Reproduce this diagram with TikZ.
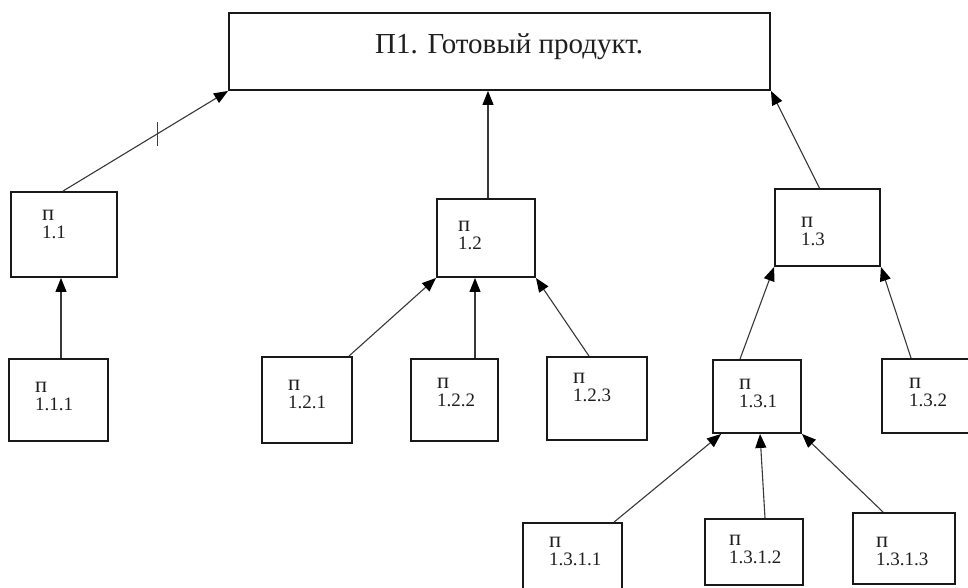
\documentclass[tikz,border=0pt]{standalone}
\usepackage{fontspec}
\setmainfont{Liberation Serif}
\usetikzlibrary{arrows.meta,calc}
\tikzset{
  box/.style={draw=black!90, line width=1.9pt, rectangle, inner sep=0pt, fill=none},
  conn/.style={draw=black!78, line width=1.1pt, -{Triangle[length=14pt,width=11pt,color=black]}},
  lab/.style={inner sep=0pt, font=\fontsize{19}{19}\selectfont, text=black!88},
  labp/.style={inner sep=0pt, font=\fontsize{22.5}{22}\selectfont, text=black!88},
  ttl/.style={inner sep=0pt, font=\fontsize{29}{34}\selectfont, text=black!88},
}
\newcommand\mylbl[4]{%
  \node[labp,anchor=base west] (#1a) at (#2,#3) {п};
  \node[lab,anchor=base west] (#1b) at (#2,#3+18.5) {#4};}
\begin{document}
\begin{tikzpicture}[x=1pt,y=-1pt]
\useasboundingbox (0,0) rectangle (968,587);
\fill[white] (0,0) rectangle (968,587);
% boxes
\node[box, minimum width=541pt, minimum height=77pt] (top) at (499.5,51.5) {};
\node[box, minimum width=106pt, minimum height=85pt] (b11) at (64,234.5) {};
\node[box, minimum width=98pt, minimum height=78pt] (b12) at (486,238) {};
\node[box, minimum width=105pt, minimum height=77pt] (b13) at (827.5,227.5) {};
\node[box, minimum width=99pt, minimum height=82pt] (b111) at (58.5,400) {};
\node[box, minimum width=90pt, minimum height=86pt] (b121) at (307,400) {};
\node[box, minimum width=87pt, minimum height=82pt] (b122) at (454.5,400) {};
\node[box, minimum width=100pt, minimum height=83pt] (b123) at (597,398.5) {};
\node[box, minimum width=88pt, minimum height=73pt] (b131) at (757,396.5) {};
\node[box, minimum width=108pt, minimum height=74pt] (b132) at (936,396) {};
\node[box, minimum width=99pt, minimum height=77pt] (b1311) at (572.5,561.5) {};
\node[box, minimum width=98pt, minimum height=66pt] (b1312) at (754,552) {};
\node[box, minimum width=102pt, minimum height=71pt] (b1313) at (904,548.5) {};
% texts
\node[ttl,anchor=base west] (title) at (375,53) {П1. Готовый продукт.};
\mylbl{l11}{42}{220}{1.1}
\mylbl{l12}{458}{231}{1.2}
\mylbl{l13}{801}{227}{1.3}
\mylbl{l111}{35}{392}{1.1.1}
\mylbl{l121}{288}{390}{1.2.1}
\mylbl{l122}{437}{388}{1.2.2}
\mylbl{l123}{573}{383}{1.2.3}
\mylbl{l131}{739}{389}{1.3.1}
\mylbl{l132}{909}{388}{1.3.2}
\mylbl{l1311}{549}{547}{1.3.1.1}
\mylbl{l1312}{729}{545}{1.3.1.2}
\mylbl{l1313}{876}{547}{1.3.1.3}
% connectors
\draw[conn] ([xshift=-1pt]b11.north) -- (top.south west);
\coordinate (tick) at ($([xshift=-1pt]b11.north)!0.572!(top.south west)$);
\draw[draw=black!75, line width=0.9pt] ([yshift=12pt]tick) -- ([yshift=-12pt]tick);
\draw[conn] ([xshift=2pt]b12.north) -- ([xshift=2pt]b12.north |- top.south);
\draw[conn] ([xshift=-8pt]b13.north) -- (top.south east);
\draw[conn] ([xshift=2.5pt]b111.north) -- ([xshift=2.5pt]b111.north |- b11.south);
\draw[conn] ([xshift=-4pt]b121.north east) -- (b12.south west);
\draw[conn] ([xshift=20.5pt]b122.north) -- ([xshift=20.5pt]b122.north |- b12.south);
\draw[conn] ([xshift=-8pt]b123.north) -- (b12.south east);
\draw[conn] ([xshift=-17pt]b131.north) -- (b13.south west);
\draw[conn] ([xshift=30pt]b132.north west) -- (b13.south east);
\draw[conn] ([xshift=92pt]b1311.north west) -- ([xshift=9pt]b131.south west);
\draw[conn] ([xshift=11pt]b1312.north) -- ([xshift=3pt]b131.south);
\draw[conn] ([xshift=31pt]b1313.north west) -- (b131.south east);
\end{tikzpicture}
\end{document}
